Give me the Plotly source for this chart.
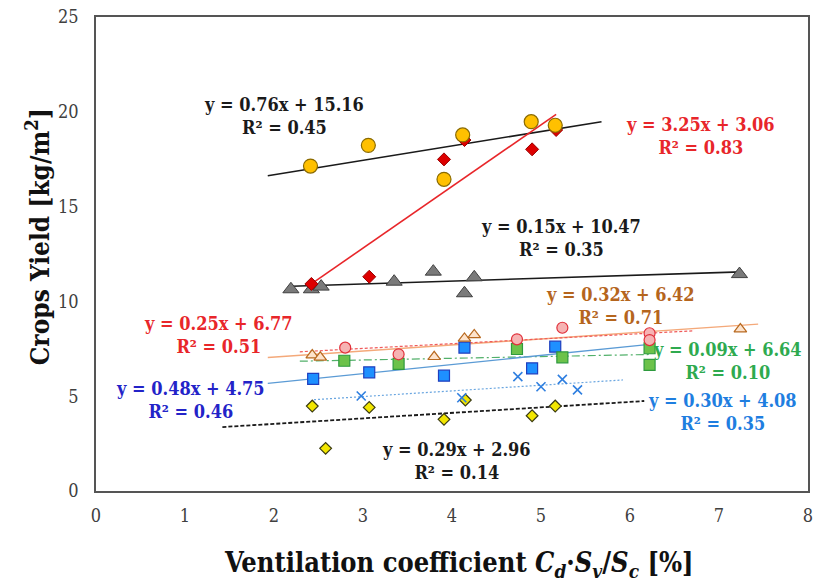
import plotly.graph_objects as go

# ---------------- data ----------------
# Yellow circles
circ_x = [2.41, 3.06, 4.12, 3.91, 4.89, 5.16]
circ_y = [17.14, 18.23, 18.78, 16.44, 19.48, 19.29]
# Red diamonds
rdia_x = [2.42, 3.07, 3.91, 4.14, 4.90, 5.17]
rdia_y = [10.92, 11.30, 17.49, 18.51, 18.02, 19.04]
# Gray triangles
gtri_x = [2.19, 2.42, 2.53, 3.35, 3.79, 4.14, 4.25, 7.23]
gtri_y = [10.64, 10.64, 10.78, 11.04, 11.57, 10.43, 11.27, 11.44]
# Brown open triangles
btri_x = [2.43, 2.52, 3.80, 4.14, 4.25, 7.24]
btri_y = [7.17, 7.05, 7.08, 8.05, 8.23, 8.54]
# Pink circles
pcirc_x = [2.80, 3.40, 4.73, 5.24, 6.22, 6.22]
pcirc_y = [7.56, 7.21, 8.00, 8.61, 8.32, 7.96]
# Green squares
gsq_x = [2.79, 3.40, 4.73, 5.24, 6.22, 6.22]
gsq_y = [6.87, 6.70, 7.49, 7.05, 7.53, 6.65]
# Blue squares
bsq_x = [2.44, 3.07, 3.91, 4.14, 4.90, 5.16]
bsq_y = [5.91, 6.26, 6.08, 7.56, 6.47, 7.61]
# Blue crosses
bx_x = [2.98, 4.11, 4.74, 5.00, 5.24, 5.41]
bx_y = [5.01, 4.92, 6.03, 5.50, 5.89, 5.33]
# Yellow diamonds
ydia_x = [2.43, 3.07, 2.58, 3.91, 4.15, 4.90, 5.16]
ydia_y = [4.48, 4.41, 2.25, 3.78, 4.80, 3.97, 4.48]

# Trend lines: slope, intercept, x-range
fit_slope = [0.76, 3.25, 0.15, 0.32, 0.25, 0.09, 0.48, 0.30, 0.29]
fit_inter = [15.16, 3.06, 10.47, 6.42, 6.77, 6.64, 4.75, 4.08, 2.96]
fit_x0 = [1.93, 2.42, 2.20, 1.93, 2.29, 2.29, 1.93, 2.45, 1.42]
fit_x1 = [5.68, 5.17, 7.25, 7.44, 6.71, 6.22, 6.22, 5.92, 6.16]
fit_r2 = ["0.45", "0.83", "0.35", "0.71", "0.51", "0.10", "0.46", "0.35", "0.14"]

x_ticks = [0, 1, 2, 3, 4, 5, 6, 7, 8]
y_ticks = [0, 5, 10, 15, 20, 25]

# ---------------- styles ----------------
fit_styles = [
    dict(color="#1a1a1a", width=1.6, dash="solid"),
    dict(color="#e8262a", width=1.6, dash="solid"),
    dict(color="#1a1a1a", width=1.6, dash="solid"),
    dict(color="#f4a97a", width=1.4, dash="solid"),
    dict(color="#f05a5a", width=1.2, dash="3px,2px"),
    dict(color="#52b06a", width=1.2, dash="8px,3px,2px,3px"),
    dict(color="#5b9bd5", width=1.4, dash="solid"),
    dict(color="#6aa6e0", width=1.2, dash="2px,2px"),
    dict(color="#1a1a1a", width=1.8, dash="4px,2px"),
]
label_colors = ["#1a1a1a", "#e8262a", "#1a1a1a", "#b5651d", "#e8262a",
                "#2eaa4f", "#2323c8", "#1f7ee0", "#1a1a1a"]
# label centers (data coords)
label_pos = [(2.11, 19.76), (6.79, 18.75), (5.23, 13.37), (5.89, 9.78),
             (1.38, 8.23), (7.09, 6.88), (1.06, 4.80), (7.04, 4.19), (4.05, 1.56)]

FONT = "DejaVu Serif Condensed, DejaVu Serif, serif"

fig = go.Figure()

for i in range(len(fit_slope)):
    xs = [fit_x0[i], fit_x1[i]]
    ys = [fit_slope[i] * x + fit_inter[i] for x in xs]
    fig.add_trace(go.Scatter(x=xs, y=ys, mode="lines", line=fit_styles[i],
                             showlegend=False, hoverinfo="skip"))

def pts(x, y, symbol, size, fill, line_c, line_w=1.0):
    fig.add_trace(go.Scatter(x=x, y=y, mode="markers", showlegend=False,
                             marker=dict(symbol=symbol, size=size, color=fill,
                                         line=dict(color=line_c, width=line_w))))

pts(ydia_x, ydia_y, "diamond", 9, "#f2e600", "#3a3a10", 1.2)
pts(bx_x, bx_y, "x-thin", 9, "#2f7fe0", "#2f7fe0", 1.6)
pts(bsq_x, bsq_y, "square", 11, "#1e90ff", "#1f3fbf", 1.2)
pts(gsq_x, gsq_y, "square", 11, "#6cc24a", "#2e9a3e", 1.2)
pts(pcirc_x, pcirc_y, "circle", 11, "#f6b3b3", "#e0303a", 1.2)
pts(btri_x, btri_y, "triangle-up", 11, "#fde3cc", "#b8691f", 1.2)
pts(gtri_x, gtri_y, "triangle-up", 14, "#7a7a7a", "#404040", 1.0)
pts(rdia_x, rdia_y, "diamond", 10, "#dd0000", "#9a0000", 1.0)
pts(circ_x, circ_y, "circle", 14, "#ffc000", "#8a6a00", 1.2)

for i in range(len(fit_slope)):
    txt = "<b>y = %.2fx + %.2f<br>R² = %s</b>" % (fit_slope[i], fit_inter[i], fit_r2[i])
    fig.add_annotation(x=label_pos[i][0], y=label_pos[i][1], xref="x", yref="y",
                       text=txt, showarrow=False, align="center",
                       font=dict(family=FONT, size=18, color=label_colors[i]))

# axis titles as annotations (positioned like the reference)
fig.add_annotation(x=0.510, y=-0.156, xref="paper", yref="paper",
                   text="<b>Ventilation coefficient <i>C<sub>d</sub></i>·<i>S<sub>v</sub></i>/<i>S<sub>c</sub></i> [%]</b>",
                   showarrow=False, xanchor="center", yanchor="middle",
                   font=dict(family=FONT, size=27, color="#111111"))
fig.add_annotation(x=-0.081, y=0.536, xref="paper", yref="paper",
                   text="<b>Crops Yield [kg/m<sup>2</sup>]</b>", textangle=-90,
                   showarrow=False, xanchor="center", yanchor="middle",
                   font=dict(family=FONT, size=26, color="#111111"))

fig.update_layout(
    width=818, height=588,
    margin=dict(l=96, r=5, t=17, b=97),
    paper_bgcolor="white", plot_bgcolor="white",
    font=dict(family=FONT, color="#404040"),
)
fig.update_xaxes(range=[0, 8], tickvals=x_ticks, showgrid=False, zeroline=False,
                 showline=True, mirror=True, linecolor="#555555", linewidth=1.5,
                 ticks="", ticklabelstandoff=8,
                 tickfont=dict(family=FONT, size=18, color="#404040"))
fig.update_yaxes(range=[0, 25], tickvals=y_ticks, showgrid=False, zeroline=False,
                 showline=True, mirror=True, linecolor="#555555", linewidth=1.5,
                 ticks="", ticklabelstandoff=12,
                 tickfont=dict(family=FONT, size=18, color="#404040"))

fig.write_html("out.html")
